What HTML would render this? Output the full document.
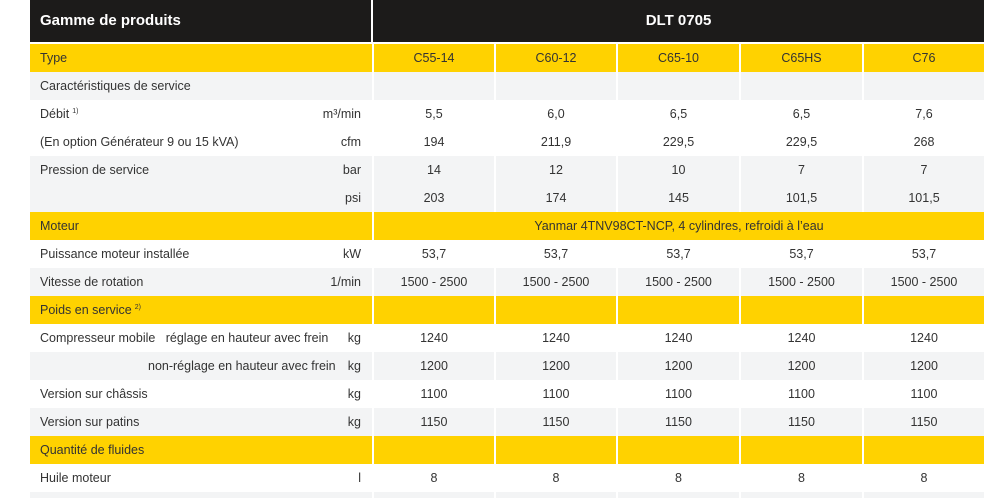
<!DOCTYPE html>
<html><head><meta charset="utf-8"><style>
html,body{margin:0;width:998px;height:498px;overflow:hidden}
body{background:#fff;font-family:"Liberation Sans",sans-serif;font-size:12.5px;color:#333;position:relative}
.r{position:absolute;left:30px;width:954px;height:28px;overflow:hidden}
.c{position:absolute;top:0;height:100%;line-height:28px;text-align:center;box-sizing:border-box;border-left:2px solid #fff}
.l{position:absolute;left:10px;top:0;line-height:28px}
.u{position:absolute;right:11px;top:0;line-height:28px}
.y{background:#ffd200}.g{background:#f3f4f5}
sup{font-size:7px;position:relative;top:-5px;vertical-align:baseline;margin-left:3px;line-height:0}
</style></head><body>
<div style="position:absolute;left:30px;top:0;width:341px;height:42px;background:#1c1b1a;color:#fff;font-weight:bold;font-size:15px;line-height:42px;padding-left:10px;box-sizing:border-box">Gamme de produits</div>
<div style="position:absolute;left:373px;top:0;width:611px;height:42px;background:#1c1b1a;color:#fff;font-weight:bold;font-size:15px;line-height:42px;text-align:center">DLT 0705</div>
<div id="t"></div>
<script>
const rows=[
["y","Type","",["C55-14","C60-12","C65-10","C65HS","C76"]],
["g","Caractéristiques de service","",["","","","",""]],
["","Débit<sup>1)</sup>","m³/min",["5,5","6,0","6,5","6,5","7,6"]],
["","(En option Générateur 9 ou 15 kVA)","cfm",["194","211,9","229,5","229,5","268"]],
["g","Pression de service","bar",["14","12","10","7","7"]],
["g","","psi",["203","174","145","101,5","101,5"]],
["y","Moteur","",null,"Yanmar 4TNV98CT-NCP, 4 cylindres, refroidi à l’eau"],
["","Puissance moteur installée","kW",["53,7","53,7","53,7","53,7","53,7"]],
["g","Vitesse de rotation","1/min",["1500 - 2500","1500 - 2500","1500 - 2500","1500 - 2500","1500 - 2500"]],
["y","Poids en service<sup>2)</sup>","",["","","","",""]],
["","Compresseur mobile &nbsp; réglage en hauteur avec frein","kg",["1240","1240","1240","1240","1240"]],
["g","<span style='position:absolute;left:108px;white-space:nowrap'>non-réglage en hauteur avec frein</span>","kg",["1200","1200","1200","1200","1200"]],
["","Version sur châssis","kg",["1100","1100","1100","1100","1100"]],
["g","Version sur patins","kg",["1150","1150","1150","1150","1150"]],
["y","Quantité de fluides","",["","","","",""]],
["","Huile moteur","l",["8","8","8","8","8"]],
["g","","",["","","","",""]]];
const xs=[342,464,586,709,832,954];
let h="";
rows.forEach((r,i)=>{
 const top=44+i*28;
 const hh=Math.min(28,498-top);
 h+=`<div class="r" style="top:${top}px;height:${hh}px">`;
 h+=`<div class="${r[0]}" style="position:absolute;left:0;top:0;width:342px;height:100%"><span class="l" style="white-space:nowrap">${r[1]}</span><span class="u">${r[2]}</span></div>`;
 if(r[3]){for(let k=0;k<5;k++)h+=`<div class="c ${r[0]}" style="left:${xs[k]}px;width:${xs[k+1]-xs[k]}px">${r[3][k]}</div>`;}
 else h+=`<div class="c ${r[0]}" style="left:342px;width:612px">${r[4]}</div>`;
 h+=`</div>`;
});
document.getElementById("t").innerHTML=h;
</script>
</body></html>
